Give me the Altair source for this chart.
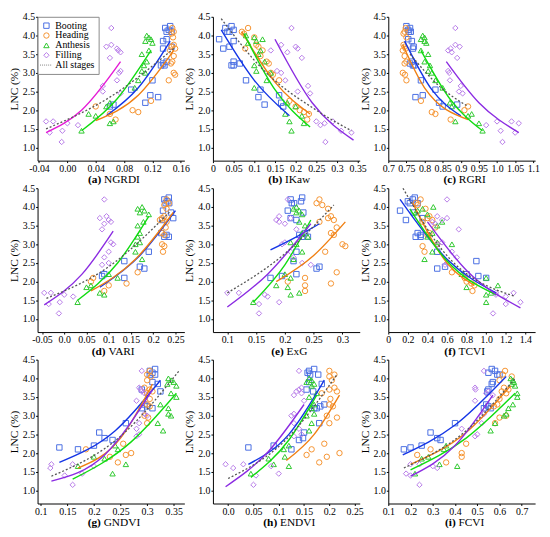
import altair as alt
import pandas as pd

STAGES = ["Booting", "Heading", "Anthesis", "Filling"]
LEGEND_DOMAIN = STAGES + ["All stages"]

# LNC (%) of the samples of each stage (shared by all panels)
lnc_boot = [4.25, 4.2, 4.15, 4.1, 4.1, 3.9, 3.85, 3.7, 3.65, 3.3, 3.25, 3.2, 3.2, 2.8, 2.55, 2.4, 2.35, 2.2, 2.15, 2.1]
lnc_head = [4.2, 4.1, 4.05, 3.95, 3.75, 3.7, 3.65, 3.6, 3.45, 3.3, 3.25, 3.0, 2.95, 2.8, 2.25, 2.1, 2.0, 1.95, 1.9, 1.75]
lnc_anth = [4.0, 3.95, 3.9, 3.85, 3.8, 3.6, 3.5, 3.3, 3.2, 3.05, 3.0, 2.8, 2.6, 2.2, 2.1, 1.9, 1.85, 1.7, 1.65, 1.45]
lnc_fill = [4.2, 3.75, 3.7, 3.65, 3.6, 3.55, 3.4, 3.05, 3.0, 2.8, 2.65, 2.5, 2.45, 1.7, 1.7, 1.65, 1.6, 1.45, 1.4, 1.15]

# index values per panel and stage (same sample order as the LNC lists)
a_boot = [0.145, 0.138, 0.143, 0.14, 0.147, 0.14, 0.135, 0.147, 0.135, 0.14, 0.135, 0.137, 0.132, 0.12, 0.09, 0.117, 0.128, 0.11, 0.065, 0.06]
a_head = [0.148, 0.15, 0.147, 0.149, 0.15, 0.147, 0.152, 0.145, 0.15, 0.148, 0.146, 0.15, 0.152, 0.143, 0.118, 0.04, 0.092, 0.1, 0.06, 0.068]
a_anth = [0.112, 0.115, 0.118, 0.11, 0.12, 0.115, 0.105, 0.112, 0.108, 0.105, 0.11, 0.1, 0.095, 0.06, 0.055, 0.03, 0.04, 0.065, 0.06, 0.02]
a_fill = [0.062, 0.062, 0.055, 0.07, 0.072, 0.075, 0.06, 0.075, 0.073, 0.07, 0.05, 0.05, 0.075, -0.03, -0.02, 0.0, 0.015, -0.007, -0.025, -0.008]

b_boot = [0.045, 0.03, 0.05, 0.035, 0.04, 0.015, 0.05, 0.04, 0.025, 0.05, 0.065, 0.045, 0.05, 0.08, 0.115, 0.16, 0.11, 0.165, 0.125, 0.17]
b_head = [0.085, 0.07, 0.075, 0.1, 0.105, 0.11, 0.078, 0.12, 0.115, 0.13, 0.135, 0.14, 0.145, 0.16, 0.185, 0.2, 0.21, 0.22, 0.232, 0.228]
b_anth = [0.08, 0.1, 0.12, 0.105, 0.085, 0.115, 0.11, 0.125, 0.1, 0.105, 0.14, 0.13, 0.1, 0.18, 0.2, 0.175, 0.215, 0.185, 0.22, 0.19]
b_fill = [0.19, 0.165, 0.2, 0.205, 0.14, 0.18, 0.215, 0.155, 0.165, 0.175, 0.23, 0.205, 0.235, 0.25, 0.29, 0.27, 0.26, 0.31, 0.335, 0.272]

c_boot = [0.75, 0.76, 0.755, 0.762, 0.757, 0.755, 0.765, 0.77, 0.768, 0.765, 0.76, 0.768, 0.772, 0.79, 0.83, 0.795, 0.775, 0.84, 0.89, 0.85]
c_head = [0.748, 0.745, 0.742, 0.75, 0.742, 0.745, 0.748, 0.74, 0.745, 0.75, 0.745, 0.74, 0.746, 0.75, 0.79, 0.92, 0.91, 0.82, 0.83, 0.872]
c_anth = [0.795, 0.8, 0.79, 0.8, 0.805, 0.79, 0.81, 0.8, 0.815, 0.81, 0.82, 0.83, 0.85, 0.87, 0.875, 0.93, 0.92, 0.885, 0.95, 0.96]
c_fill = [0.885, 0.885, 0.897, 0.872, 0.865, 0.875, 0.89, 0.865, 0.868, 0.87, 0.9, 0.895, 0.905, 1.0, 1.04, 1.06, 0.97, 1.01, 1.05, 1.015]

d_boot = [0.235, 0.225, 0.232, 0.228, 0.236, 0.222, 0.24, 0.245, 0.22, 0.218, 0.23, 0.235, 0.225, 0.19, 0.135, 0.17, 0.18, 0.09, 0.085, 0.135]
d_head = [0.23, 0.235, 0.225, 0.23, 0.225, 0.22, 0.215, 0.23, 0.228, 0.22, 0.225, 0.22, 0.225, 0.222, 0.165, 0.065, 0.06, 0.14, 0.1, 0.09]
d_anth = [0.175, 0.165, 0.18, 0.17, 0.19, 0.178, 0.165, 0.17, 0.165, 0.17, 0.16, 0.16, 0.175, 0.1, 0.12, 0.06, 0.05, 0.08, 0.09, 0.03]
d_fill = [0.09, 0.095, 0.08, 0.1, 0.105, 0.09, 0.085, 0.105, 0.11, 0.1, 0.09, 0.1, 0.085, -0.045, -0.03, 0.0, 0.02, -0.01, -0.035, -0.012]

e_boot = [0.23, 0.21, 0.228, 0.212, 0.216, 0.205, 0.232, 0.21, 0.22, 0.235, 0.225, 0.23, 0.24, 0.22, 0.215, 0.26, 0.255, 0.22, 0.195, 0.175]
e_head = [0.26, 0.255, 0.265, 0.275, 0.28, 0.275, 0.285, 0.26, 0.29, 0.28, 0.285, 0.3, 0.305, 0.27, 0.29, 0.235, 0.205, 0.28, 0.235, 0.235]
e_anth = [0.22, 0.215, 0.225, 0.22, 0.23, 0.225, 0.235, 0.23, 0.24, 0.21, 0.22, 0.23, 0.215, 0.2, 0.21, 0.185, 0.205, 0.225, 0.21, 0.145]
e_fill = [0.205, 0.19, 0.21, 0.185, 0.19, 0.2, 0.22, 0.2, 0.195, 0.21, 0.215, 0.23, 0.245, 0.1, 0.12, 0.165, 0.17, 0.19, 0.155, 0.155]

f_boot = [0.27, 0.25, 0.2, 0.22, 0.3, 0.12, 0.26, 0.35, 0.18, 0.3, 0.33, 0.28, 0.33, 0.5, 0.9, 0.58, 0.5, 0.8, 0.92, 1.0]
f_head = [0.33, 0.28, 0.3, 0.38, 0.42, 0.4, 0.45, 0.35, 0.48, 0.42, 0.4, 0.5, 0.35, 0.37, 0.65, 0.78, 0.8, 0.85, 0.88, 0.86]
f_anth = [0.46, 0.35, 0.3, 0.28, 0.4, 0.55, 0.5, 0.45, 0.4, 0.5, 0.65, 0.45, 0.37, 0.75, 1.0, 1.12, 0.8, 1.05, 1.0, 1.0]
f_fill = [0.6, 0.5, 0.6, 0.55, 0.45, 0.48, 0.72, 0.55, 0.5, 0.65, 0.7, 0.6, 0.58, 1.1, 1.28, 1.1, 1.2, 1.35, 1.2, 1.07]

g_boot = [0.315, 0.305, 0.31, 0.305, 0.315, 0.31, 0.32, 0.29, 0.325, 0.295, 0.3, 0.31, 0.29, 0.26, 0.21, 0.22, 0.235, 0.2, 0.135, 0.17]
g_head = [0.305, 0.3, 0.307, 0.3, 0.295, 0.305, 0.31, 0.3, 0.305, 0.3, 0.305, 0.295, 0.302, 0.3, 0.255, 0.185, 0.27, 0.26, 0.23, 0.245]
g_anth = [0.34, 0.345, 0.35, 0.338, 0.355, 0.345, 0.355, 0.325, 0.34, 0.34, 0.345, 0.32, 0.33, 0.24, 0.245, 0.2, 0.22, 0.26, 0.17, 0.235]
g_fill = [0.29, 0.285, 0.288, 0.29, 0.295, 0.3, 0.28, 0.295, 0.3, 0.285, 0.28, 0.285, 0.28, 0.12, 0.16, 0.2, 0.118, 0.178, 0.145, 0.16]

h_boot = [0.17, 0.16, 0.157, 0.178, 0.162, 0.16, 0.185, 0.155, 0.168, 0.19, 0.182, 0.17, 0.175, 0.18, 0.15, 0.148, 0.14, 0.09, 0.04, 0.125]
h_head = [0.2, 0.21, 0.2, 0.205, 0.21, 0.2, 0.215, 0.185, 0.202, 0.2, 0.207, 0.195, 0.215, 0.2, 0.19, 0.165, 0.22, 0.155, 0.195, 0.18]
h_anth = [0.16, 0.165, 0.155, 0.17, 0.165, 0.175, 0.16, 0.17, 0.165, 0.17, 0.155, 0.165, 0.16, 0.12, 0.11, 0.112, 0.08, 0.09, 0.12, 0.045]
h_fill = [0.14, 0.145, 0.14, 0.135, 0.145, 0.13, 0.15, 0.13, 0.125, 0.13, 0.14, 0.145, 0.13, -0.005, 0.03, 0.085, 0.01, 0.1, 0.055, 0.05]

i_boot = [0.565, 0.58, 0.55, 0.59, 0.6, 0.57, 0.565, 0.55, 0.545, 0.54, 0.55, 0.56, 0.53, 0.4, 0.29, 0.32, 0.335, 0.25, 0.2, 0.17]
i_head = [0.625, 0.615, 0.655, 0.6, 0.62, 0.64, 0.61, 0.63, 0.6, 0.59, 0.575, 0.63, 0.6, 0.58, 0.45, 0.29, 0.43, 0.23, 0.43, 0.36]
i_anth = [0.65, 0.66, 0.665, 0.655, 0.67, 0.68, 0.68, 0.66, 0.64, 0.63, 0.62, 0.58, 0.56, 0.36, 0.35, 0.28, 0.25, 0.33, 0.41, 0.22]
i_fill = [0.53, 0.49, 0.492, 0.55, 0.54, 0.57, 0.49, 0.53, 0.52, 0.52, 0.43, 0.5, 0.49, 0.2, 0.24, 0.3, 0.32, 0.18, 0.2, 0.24]

# fitted curves
fits_a = {"Booting": [(0.055, 1.85), (0.1, 2.6), (0.145, 3.85)],
          "Heading": [(0.04, 1.72), (0.1, 2.4), (0.15, 3.6)],
          "Anthesis": [(0.02, 1.45), (0.07, 2.3), (0.118, 3.6)],
          "Filling": [(-0.03, 1.4), (0.02, 2.0), (0.075, 3.3)],
          "All stages": [(-0.03, 1.5), (0.06, 2.35), (0.15, 3.65)]}
fits_b = {"Booting": [(0.02, 4.15), (0.1, 2.8), (0.185, 1.85)],
          "Heading": [(0.07, 4.1), (0.15, 2.75), (0.235, 1.9)],
          "Anthesis": [(0.075, 4.05), (0.15, 2.55), (0.235, 1.55)],
          "Filling": [(0.15, 3.9), (0.24, 2.2), (0.34, 1.2)],
          "All stages": [(0.02, 4.45), (0.12, 3.1), (0.25, 2.0), (0.335, 1.45)]}
fits_c = {"Booting": [(0.745, 3.85), (0.82, 2.55), (0.9, 1.85)],
          "Heading": [(0.74, 3.75), (0.8, 2.6), (0.92, 1.75)],
          "Anthesis": [(0.79, 3.6), (0.87, 2.3), (0.96, 1.45)],
          "Filling": [(0.86, 3.3), (0.95, 2.2), (1.06, 1.4)],
          "All stages": [(0.76, 3.5), (0.84, 2.65), (0.92, 2.1)]}
fits_d = {"Booting": [(0.08, 1.85), (0.17, 2.7), (0.25, 3.9)],
          "Heading": [(0.06, 1.75), (0.16, 2.6), (0.245, 3.85)],
          "Anthesis": [(0.03, 1.5), (0.12, 2.5), (0.19, 3.75)],
          "Filling": [(-0.045, 1.38), (0.04, 2.2), (0.11, 3.35)],
          "All stages": [(-0.04, 1.55), (0.1, 2.4), (0.24, 3.9)]}
fits_e = {"Booting": [(0.175, 2.85), (0.22, 3.2), (0.26, 3.55)],
          "Heading": [(0.185, 2.0), (0.25, 2.7), (0.305, 3.6)],
          "Anthesis": [(0.145, 1.45), (0.2, 2.45), (0.245, 3.65)],
          "Filling": [(0.1, 1.32), (0.17, 2.2), (0.245, 3.55)],
          "All stages": [(0.1, 1.7), (0.2, 2.75), (0.285, 4.05)]}
fits_f = {"Booting": [(0.12, 4.2), (0.6, 2.6), (1.1, 1.7)],
          "Heading": [(0.25, 4.1), (0.6, 2.5), (0.88, 1.9)],
          "Anthesis": [(0.22, 3.95), (0.6, 2.55), (1.1, 1.65)],
          "Filling": [(0.4, 3.6), (0.8, 2.3), (1.35, 1.3)],
          "All stages": [(0.15, 4.5), (0.55, 2.85), (1.3, 1.6)]}
fits_g = {"Booting": [(0.135, 1.75), (0.24, 2.6), (0.325, 3.95)],
          "Heading": [(0.17, 1.6), (0.25, 2.4), (0.31, 3.85)],
          "Anthesis": [(0.16, 1.3), (0.27, 2.3), (0.355, 3.6)],
          "Filling": [(0.12, 1.25), (0.22, 1.95), (0.31, 3.7)],
          "All stages": [(0.12, 1.38), (0.25, 2.45), (0.36, 4.2)]}
fits_h = {"Booting": [(0.04, 1.7), (0.12, 2.5), (0.19, 3.95)],
          "Heading": [(0.115, 1.8), (0.17, 2.5), (0.22, 3.55)],
          "Anthesis": [(0.045, 1.35), (0.12, 2.35), (0.175, 3.55)],
          "Filling": [(-0.005, 1.1), (0.08, 2.05), (0.15, 3.3)],
          "All stages": [(0.0, 1.32), (0.11, 2.3), (0.215, 4.1)]}
fits_i = {"Booting": [(0.165, 1.95), (0.4, 2.75), (0.63, 4.05)],
          "Heading": [(0.2, 1.7), (0.45, 2.55), (0.65, 3.8)],
          "Anthesis": [(0.2, 1.55), (0.45, 2.4), (0.67, 3.6)],
          "Filling": [(0.2, 1.38), (0.4, 2.2), (0.57, 3.55)],
          "All stages": [(0.17, 1.6), (0.45, 2.6), (0.67, 4.0)]}

panel_keys = ["a", "b", "c", "d", "e", "f", "g", "h", "i"]
panel_names = ["NGRDI", "IKaw", "RGRI", "VARI", "ExG", "TCVI", "GNDVI", "ENDVI", "FCVI"]
x_domains = [[-0.042, 0.165], [0, 0.355], [0.7, 1.105], [-0.06, 0.27], [0.075, 0.33],
             [0, 1.5], [0.094, 0.37], [-0.03, 0.26], [0.1, 0.76]]
x_ticks = [[-0.04, 0, 0.04, 0.08, 0.12, 0.16],
           [0, 0.05, 0.1, 0.15, 0.2, 0.25, 0.3, 0.35],
           [0.7, 0.75, 0.8, 0.85, 0.9, 0.95, 1.0, 1.05, 1.1],
           [-0.05, 0, 0.05, 0.1, 0.15, 0.2, 0.25],
           [0.1, 0.15, 0.2, 0.25, 0.3],
           [0, 0.2, 0.4, 0.6, 0.8, 1.0, 1.2, 1.4],
           [0.1, 0.15, 0.2, 0.25, 0.3, 0.35],
           [0, 0.05, 0.1, 0.15, 0.2, 0.25],
           [0.1, 0.2, 0.3, 0.4, 0.5, 0.6, 0.7]]
x_formats = [(".2f", "0.00", "1"), ("~g", "0", "1"), ("~g", "0", "1.0"), ("~g", "0.0", "1"),
             ("~g", "0", "1"), (".1f", "0", "1.0"), ("~g", "0", "1"), ("~g", "0.0", "1"),
             ("~g", "0", "1")]
y_ticks = [1.0, 1.5, 2.0, 2.5, 3.0, 3.5, 4.0, 4.5]

point_colors = ["#4a6fe3", "#f59331", "#2ec82e", "#b77ce8", "#666666"]
line_colors = {"Booting": "#1435e6", "Heading": "#f07f12", "Anthesis": "#10dc10", "Filling": "#8b2be2"}
fill_line_a = "#e51ad6"
dot_path = "M-2.3,0h0.3M-1.55,0h0.3M-0.8,0h0.3M-0.05,0h0.3M0.7,0h0.3M1.45,0h0.3"
shape_range = ["square", "circle", "triangle-up", "diamond", dot_path]

FONT = "Liberation Serif"
W, H = 149, 146

# ---------- build tables ----------
lnc_lists = [lnc_boot, lnc_head, lnc_anth, lnc_fill]
x_lists = {
    "a": [a_boot, a_head, a_anth, a_fill], "b": [b_boot, b_head, b_anth, b_fill],
    "c": [c_boot, c_head, c_anth, c_fill], "d": [d_boot, d_head, d_anth, d_fill],
    "e": [e_boot, e_head, e_anth, e_fill], "f": [f_boot, f_head, f_anth, f_fill],
    "g": [g_boot, g_head, g_anth, g_fill], "h": [h_boot, h_head, h_anth, h_fill],
    "i": [i_boot, i_head, i_anth, i_fill],
}
fit_sets = {"a": fits_a, "b": fits_b, "c": fits_c, "d": fits_d, "e": fits_e,
            "f": fits_f, "g": fits_g, "h": fits_h, "i": fits_i}

pt_rows = []
for k in panel_keys:
    for s, xs, ys in zip(STAGES, x_lists[k], lnc_lists):
        for xv, yv in zip(xs, ys):
            pt_rows.append({"panel": k, "stage": s, "x": xv, "y": yv})
points_df = pd.DataFrame(pt_rows)

fit_rows = []
for k in panel_keys:
    for s, pts in fit_sets[k].items():
        if s == "All stages":
            lc = "#555555"
        elif s == "Filling" and k == "a":
            lc = fill_line_a
        else:
            lc = line_colors[s]
        for xv, yv in pts:
            fit_rows.append({"panel": k, "stage": s, "x": xv, "y": yv, "lc": lc})
fits_df = pd.DataFrame(fit_rows)

# text width estimate (Times-like metrics) for centring the mixed-weight titles
REG = {'N': 722, 'G': 722, 'R': 667, 'D': 722, 'I': 333, 'K': 722, 'a': 444, 'w': 722, 'V': 722,
       'A': 722, 'E': 611, 'x': 500, 'T': 611, 'C': 667, 'F': 556, ' ': 250}
BOLD = {'(': 333, ')': 333, 'a': 500, 'b': 556, 'c': 444, 'd': 556, 'e': 444, 'f': 333,
        'g': 500, 'h': 556, 'i': 278}
TFS = 11.5


def tw(s, table):
    return sum(table.get(ch, 600) for ch in s) * TFS / 1000.0


color_scale = alt.Scale(domain=LEGEND_DOMAIN, range=point_colors)
shape_scale = alt.Scale(domain=LEGEND_DOMAIN, range=shape_range)

panels = []
for idx, k in enumerate(panel_keys):
    fmt, zero_lbl, one_lbl = x_formats[idx]
    label_expr = (f"datum.value == 0 ? '{zero_lbl}' : (datum.value == 1 ? '{one_lbl}' : "
                  f"((datum.value < 0 ? '-' : '') + format(abs(datum.value), '{fmt}')))")
    xscale = alt.Scale(domain=x_domains[idx], nice=False, zero=False)
    yscale = alt.Scale(domain=[0.65, 4.5], nice=False, zero=False)
    x_axis = alt.Axis(values=x_ticks[idx], labelExpr=label_expr, title=None,
                      labelOverlap=False, labelFlush=False)
    y_axis = alt.Axis(values=y_ticks, format=".1f", title="LNC (%)",
                      labelOverlap=False, labelFlush=False)
    x_enc = alt.X("x:Q", scale=xscale, axis=x_axis)
    y_enc = alt.Y("y:Q", scale=yscale, axis=y_axis)

    if k == "a":
        leg = alt.Legend(orient="top-left", title=None, offset=0, padding=4,
                         strokeColor="#8a8a8a", fillColor="white", labelFont=FONT,
                         labelFontSize=10, labelColor="black", symbolSize=30,
                         symbolStrokeWidth=1, rowPadding=0, labelOffset=4)
        color_enc = alt.Color("stage:N", scale=color_scale, legend=leg)
        shape_enc = alt.Shape("stage:N", scale=shape_scale, legend=leg)
    else:
        color_enc = alt.Color("stage:N", scale=color_scale, legend=None)
        shape_enc = alt.Shape("stage:N", scale=shape_scale, legend=None)

    pts = alt.Chart(points_df[points_df.panel == k]).mark_point(
        filled=False, size=30, strokeWidth=1, opacity=1
    ).encode(x=x_enc, y=y_enc, color=color_enc, shape=shape_enc)

    fd = fits_df[fits_df.panel == k]
    stage_lines = alt.Chart(fd[fd.stage != "All stages"]).mark_line(
        interpolate="monotone", strokeWidth=1.4
    ).encode(x=x_enc, y=y_enc, detail="stage:N", stroke=alt.Stroke("lc:N", scale=None))
    all_line = alt.Chart(fd[fd.stage == "All stages"]).mark_line(
        interpolate="monotone", strokeWidth=1.3, strokeDash=[2, 2], color="#555555"
    ).encode(x=x_enc, y=y_enc)

    tag = f"({k})"
    name = panel_names[idx]
    total = tw(tag, BOLD) + tw(" ", REG) + tw(name, REG)
    start = W / 2 + 3 - total / 2
    tag_txt = alt.Chart(pd.DataFrame({"t": [tag]})).mark_text(
        align="left", baseline="alphabetic", font=FONT, fontSize=TFS, fontWeight="bold", color="black"
    ).encode(text="t:N", x=alt.value(start), y=alt.value(H + 23))
    name_txt = alt.Chart(pd.DataFrame({"t": [name]})).mark_text(
        align="left", baseline="alphabetic", font=FONT, fontSize=TFS, color="black"
    ).encode(text="t:N", x=alt.value(start + tw(tag, BOLD) + tw(" ", REG)), y=alt.value(H + 23))

    panels.append(alt.layer(pts, stage_lines, all_line, tag_txt, name_txt).properties(width=W, height=H))

chart = alt.concat(*panels, columns=3).properties(
    spacing={"row": 28, "column": 29}, bounds="flush",
    padding={"left": 0, "top": 0, "right": 2, "bottom": 0}
).resolve_legend(color="independent", shape="independent").configure_view(
    stroke=None
).configure_axis(
    grid=False, domainColor="black", domainWidth=1, tickColor="black", tickSize=2,
    labelFont=FONT, labelFontSize=10, labelColor="black", labelPadding=1,
    labelOverlap=False, labelFlush=False,
    titleFont=FONT, titleFontSize=11.5, titleFontWeight="normal", titleColor="black",
    titlePadding=3
)

chart.save("out.html", embed_options={"renderer": "svg", "actions": False})
